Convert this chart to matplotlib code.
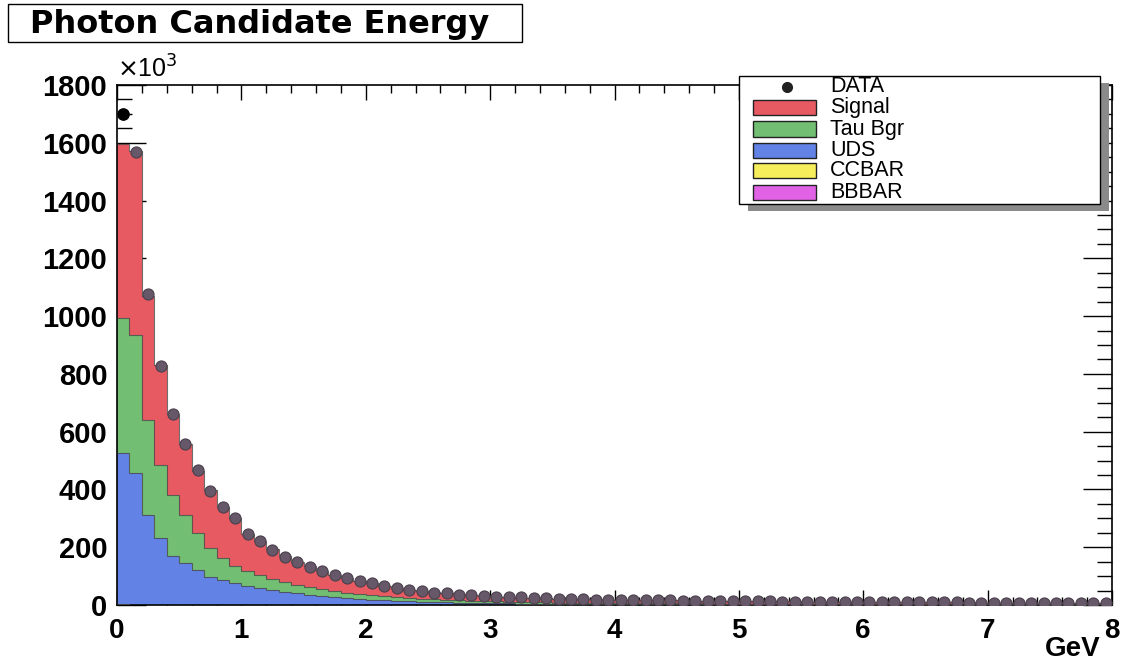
import numpy as np
import matplotlib
matplotlib.use("Agg")
import matplotlib.pyplot as plt
from matplotlib.patches import Rectangle
from matplotlib.lines import Line2D
from matplotlib.ticker import MultipleLocator

# ---------------- data (units of 10^3 entries per 0.1 GeV bin) ----------------
bin_edges_gev = [round(0.1 * i, 1) for i in range(81)]

data = [1700, 1568, 1075, 826, 662, 556, 468, 396, 340, 300,
        245, 220, 190, 167, 150, 133, 119, 104, 92, 83,
        75, 66, 59, 53, 48, 43, 40, 36, 34, 31,
        29, 27, 26, 24, 23, 22, 21, 20, 19, 18,
        18, 17, 17, 16, 16, 15, 15, 14, 14, 14,
        13, 13, 13, 12, 12, 12, 11, 11, 11, 10,
        10, 10, 10, 9, 9, 9, 9, 9, 8, 8,
        8, 8, 8, 8, 7, 7, 7, 7, 7, 7]

signal = [603, 638, 430, 345, 279, 246, 216, 201, 175, 169,
          129, 120, 102, 89, 80, 72, 64, 56, 50, 46,
          41, 37, 32, 29, 26.5, 24.5, 22.5, 21, 19.5, 17.8,
          17, 16, 14.8, 14.5, 14.1, 13.6, 13.1, 12.5, 11.9, 11.7,
          11.5, 11.3, 11, 10.7, 10.4, 10.1, 9.8, 9.6, 9.4, 9.1,
          8.9, 8.6, 8.3, 8.1, 7.9, 7.7, 7.5, 7.3, 7.1, 6.9,
          6.7, 6.6, 6.5, 6.4, 6.3, 6.2, 6.0, 5.9, 5.8, 5.6,
          5.5, 5.4, 5.2, 5.1, 4.9, 4.8, 4.6, 4.6, 4.5, 4.5]

tau_bgr = [467, 476, 328, 253, 213, 168, 128, 99, 76, 58,
           52, 44, 39, 34, 30, 27, 24, 22, 19, 17,
           16, 14, 13, 11.5, 10.5, 9.5, 8.5, 8, 7.5, 6.7,
           6, 5.5, 5.2, 4.8, 4.5, 4.3, 4.1, 3.9, 3.7, 3.6,
           3.5, 3.3, 3.2, 3.1, 3.0, 2.9, 2.8, 2.7, 2.6, 2.6,
           2.5, 2.5, 2.4, 2.4, 2.3, 2.3, 2.2, 2.2, 2.1, 2.1,
           2.0, 2.0, 1.9, 1.8, 1.8, 1.7, 1.7, 1.7, 1.6, 1.6,
           1.6, 1.5, 1.5, 1.5, 1.5, 1.4, 1.4, 1.4, 1.4, 1.3]

uds = [525, 456, 312, 232, 168, 144, 121, 98, 87, 75,
       66, 58, 51, 45, 40, 35, 31, 27, 24, 21,
       18, 16, 14, 12.5, 11, 10, 9, 8, 7, 6.5,
       6, 5.5, 5, 4.7, 4.4, 4.1, 3.8, 3.6, 3.4, 3.2,
       3.0, 2.9, 2.8, 2.7, 2.6, 2.5, 2.4, 2.3, 2.2, 2.1,
       2.0, 1.9, 1.9, 1.8, 1.8, 1.7, 1.7, 1.6, 1.6, 1.5,
       1.5, 1.4, 1.4, 1.4, 1.3, 1.3, 1.3, 1.2, 1.2, 1.2,
       1.1, 1.1, 1.1, 1.0, 1.0, 1.0, 1.0, 0.9, 0.9, 0.9]

ccbar = [1.2, 1.0, 0.8, 0.6, 0.5, 0.4, 0.3, 0.3, 0.2, 0.2] + [0.1] * 70
bbbar = [0.6, 0.5, 0.4, 0.3, 0.3, 0.2, 0.2, 0.1, 0.1, 0.1] + [0.05] * 70

legend_labels = ["DATA", "Signal", "Tau Bgr", "UDS", "CCBAR", "BBBAR"]
x_ticks = [0, 1, 2, 3, 4, 5, 6, 7, 8]
y_ticks = [0, 200, 400, 600, 800, 1000, 1200, 1400, 1600, 1800]

# ---------------- style ----------------
W, H = 1127, 663
C_SIG = "#E85A62"
C_TAU = "#72BE72"
C_UDS = "#6282E6"
C_CC = "#F6EE5A"
C_BB = "#E262E6"
C_DATA = "#665868"
FONT = "Liberation Sans"

def fx(x):
    return x / W

def fy(y):
    return 1 - y / H

fig = plt.figure(figsize=(W / 100, H / 100), dpi=100)
fig.patch.set_facecolor("white")
ax = fig.add_axes([fx(117), fy(605), (1112 - 117) / W, (605 - 85) / H])

edges = np.array(bin_edges_gev)
layers = [bbbar, ccbar, uds, tau_bgr, signal]
colors = [C_BB, C_CC, C_UDS, C_TAU, C_SIG]
cum = np.cumsum(np.array(layers, dtype=float), axis=0)

# draw cumulative histograms from the top of the stack downwards (THStack style)
for k in range(len(layers) - 1, -1, -1):
    ax.stairs(cum[k], edges, baseline=0, fill=True, color=colors[k], zorder=2)
    ax.stairs(cum[k], edges, baseline=None, fill=False, color="#4a4a4a",
              linewidth=0.8, alpha=0.8, zorder=3)

centers = 0.5 * (edges[:-1] + edges[1:])
ax.plot(centers, data, "o", ms=8, color=C_DATA, mec="#4a404c", mew=0.8, zorder=5)
ax.plot(centers[:1], data[:1], "o", ms=8, color="black", mec="black", zorder=6)

ax.set_xlim(0, 8)
ax.set_ylim(0, 1800)
ax.set_xticks(x_ticks)
ax.set_yticks(y_ticks)
ax.xaxis.set_minor_locator(MultipleLocator(0.2))
ax.yaxis.set_minor_locator(MultipleLocator(50))

ax.tick_params(axis="both", which="both", direction="in", top=True, right=True,
               colors="black")
ax.tick_params(axis="x", which="major", length=11, width=1.0, pad=9)
ax.tick_params(axis="x", which="minor", length=5.5, width=1.0)
ax.tick_params(axis="y", which="major", length=21, width=1.0, pad=7)
ax.tick_params(axis="y", which="minor", length=10.5, width=1.0)
for lab in ax.get_yticklabels():
    lab.set_fontfamily(FONT)
    lab.set_fontweight("bold")
    lab.set_fontsize(21)
for lab in ax.get_xticklabels():
    lab.set_fontfamily(FONT)
    lab.set_fontweight("bold")
    lab.set_fontsize(20)
for sp in ax.spines.values():
    sp.set_linewidth(1.2)
    sp.set_color("black")

# x10^3 multiplier
ax.text(0.0, 1.004, r"$\times$10$^{3}$", transform=ax.transAxes, ha="left",
        va="bottom", fontsize=18, family=FONT)

# axis title
fig.text(fx(1101), fy(662), "GeV", ha="right", va="bottom", fontsize=20,
         fontweight="bold", family=FONT)

# title box
fig.add_artist(Rectangle((fx(8), fy(42)), (522 - 8) / W, (42 - 4) / H,
                         transform=fig.transFigure, facecolor="white",
                         edgecolor="black", linewidth=1.0))
fig.text(fx(260), fy(24), "Photon Candidate Energy", ha="center", va="center",
         fontsize=23, fontweight="bold", family="DejaVu Sans")

# legend (ROOT TLegend style with shadow)
lx0, lx1, ly0, ly1 = 739, 1100, 76, 204
fig.add_artist(Rectangle((fx(lx0 + 9), fy(ly1 + 7)), (lx1 - lx0) / W, (ly1 - ly0) / H,
                         transform=fig.transFigure, facecolor="#8a8a8a",
                         edgecolor="none", zorder=10))
fig.add_artist(Rectangle((fx(lx0), fy(ly1)), (lx1 - lx0) / W, (ly1 - ly0) / H,
                         transform=fig.transFigure, facecolor="white",
                         edgecolor="black", linewidth=1.0, zorder=11))
row_y = [87, 107.5, 129, 150, 171, 192.5]
swatch_colors = [None, C_SIG, C_TAU, C_UDS, C_CC, C_BB]
for i, lab in enumerate(legend_labels):
    yc = row_y[i]
    if swatch_colors[i] is None:
        fig.add_artist(Line2D([fx(787)], [fy(yc)], marker="o", ms=7, color="#222222",
                              transform=fig.transFigure, zorder=12))
    else:
        fig.add_artist(Rectangle((fx(753), fy(yc + 7.5)), (816 - 753) / W, 15 / H,
                                 transform=fig.transFigure, facecolor=swatch_colors[i],
                                 edgecolor="#222222", linewidth=1.0, zorder=12))
    fig.text(fx(830), fy(yc), lab, ha="left", va="center", fontsize=15.5,
             family=FONT, zorder=13)

fig.savefig("out.png", dpi=100, facecolor="white")
